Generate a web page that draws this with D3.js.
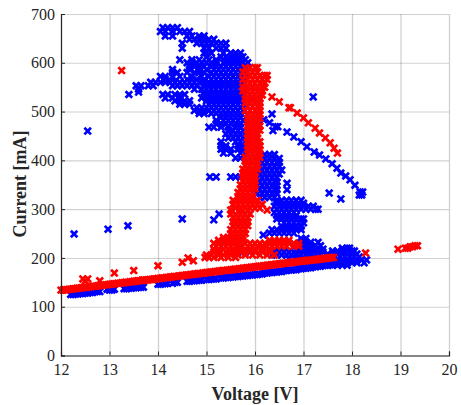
<!DOCTYPE html>
<html>
<head>
<meta charset="utf-8">
<script src="https://cdn.jsdelivr.net/npm/d3@7"></script>
<style>
html, body { margin: 0; padding: 0; background: #fff; overflow: hidden; }
text { font-family: "Liberation Serif", serif; fill: #262626; }
</style>
</head>
<body>
<svg id="chart" width="461" height="405"></svg>
<script>
var xTicks = [12, 13, 14, 15, 16, 17, 18, 19, 20]
var yTicks = [0, 100, 200, 300, 400, 500, 600, 700]

// rows of [current, [voltages]]
var blueUpper = [
	[672, [14.1, 14.2, 14.3, 14.4]],
	[664, [14.05, 14.15, 14.3, 14.45, 14.55, 14.65]],
	[655, [14.15, 14.3, 14.6, 14.7, 14.85, 14.95]],
	[648, [14.65, 14.75, 14.85, 14.95, 15.05, 15.15]],
	[640, [14.5, 14.8, 14.9, 15.0, 15.1, 15.2, 15.3, 15.4]],
	[630, [14.5, 14.95, 15.05, 15.2, 15.3, 15.4]],
	[620, [14.95, 15.0, 15.1, 15.35, 15.5, 15.6, 15.7]],
	[612, [15.0, 15.3, 15.4, 15.5, 15.6, 15.7, 15.75]],
	[606, [14.45, 14.7, 14.85, 15.05, 15.2, 15.45, 15.55, 15.65, 15.8]],
	[600, [14.6, 14.7, 14.8, 14.9, 15.0, 15.1, 15.2, 15.35, 15.45, 15.55, 15.65, 15.75, 15.85]],
	[592, [14.65, 14.75, 14.85, 14.95, 15.1, 15.2, 15.3, 15.4, 15.5, 15.6, 15.7, 15.8]],
	[586, [14.3, 14.65, 14.85, 15.0, 15.15, 15.25, 15.35, 15.45, 15.55, 15.65, 15.75]],
	[580, [14.3, 14.4, 14.6, 14.75, 14.85, 14.95, 15.1, 15.2, 15.3, 15.4, 15.5, 15.6, 15.7, 15.8]],
	[572, [14.05, 14.15, 14.3, 14.45, 14.7, 14.9, 15.05, 15.15, 15.25, 15.35, 15.45, 15.55, 15.65, 15.75]],
	[566, [14.15, 14.6, 14.8, 14.95, 15.1, 15.2, 15.3, 15.4, 15.5, 15.6, 15.7, 15.8]],
	[560, [13.85, 13.95, 14.05, 14.15, 14.25, 14.35, 14.45, 14.55, 14.65, 14.75, 14.85, 14.95, 15.05, 15.15, 15.25, 15.35, 15.45, 15.55, 15.65, 15.75]],
	[553, [13.55, 13.65, 13.8, 13.9, 14.3, 14.4, 14.5, 14.6, 14.7, 14.8, 14.95, 15.05, 15.15, 15.25, 15.35, 15.45, 15.55, 15.65, 15.75]],
	[546, [13.6, 14.75, 14.9, 15.0, 15.1, 15.2, 15.3, 15.4, 15.5, 15.6, 15.7]],
	[540, [13.6, 14.95, 15.05, 15.15, 15.25, 15.35, 15.45, 15.55, 15.65, 15.75]],
	[535, [13.4, 14.1, 14.2, 14.35, 14.45, 14.55, 14.95, 15.05, 15.15, 15.25, 15.35, 15.45, 15.55, 15.65, 15.75]],
	[528, [14.15, 14.3, 14.45, 14.9, 15.0, 15.1, 15.2, 15.3, 15.4, 15.5, 15.6, 15.7]],
	[522, [14.35, 14.45, 14.55, 14.65, 15.0, 15.1, 15.2, 15.3, 15.4, 15.5, 15.6, 15.7]],
	[515, [14.45, 14.55, 14.65, 15.05, 15.15, 15.25, 15.35, 15.45, 15.55, 15.65, 15.75]],
	[508, [14.8, 14.9, 15.0, 15.1, 15.2, 15.3, 15.4, 15.5, 15.6, 15.7]],
	[502, [14.75, 14.85, 14.95, 15.05, 15.15, 15.25, 15.35, 15.45, 15.55, 15.65, 15.75]],
	[496, [14.85, 14.95, 15.1, 15.2, 15.3, 15.4, 15.5, 15.6, 15.7]],
	[488, [15.3, 15.4, 15.5, 15.6, 15.7]],
	[482, [15.2, 15.35, 15.45, 15.55, 15.65, 15.75]],
	[475, [15.2, 15.3, 15.4, 15.5, 15.6, 15.7]],
	[468, [15.05, 15.15, 15.3, 15.45, 15.6, 15.7]],
	[461, [15.45, 15.55, 15.65, 15.75]],
	[454, [15.4, 15.5, 15.6, 15.7, 15.8]],
	[446, [15.45, 15.55, 15.65, 15.75]],
	[438, [15.3, 15.6, 15.7, 15.8]],
	[430, [15.3, 15.4, 15.65, 15.75]],
	[423, [15.3, 15.4, 15.5, 15.65, 15.75]],
	[415, [15.35, 15.5, 15.7, 15.8]],
	[405, [15.6, 15.7, 15.8]],
	[366, [15.07, 15.2, 15.5, 15.6, 15.7]]
]
var blueTail = [
	[495, [16.35]], [483, [16.18]], [477, [16.3]], [469, [16.47, 16.42]], [461, [16.37]],
	[458, [16.66]], [448, [16.8]], [438, [16.95]], [428, [17.07]], [417, [17.22]],
	[411, [17.33]], [403, [17.46]], [393, [17.59]], [384, [17.69]], [374, [17.77]],
	[368, [17.87]], [360, [17.96]], [349, [18.06]], [335, [18.17, 18.22]], [329, [18.2, 18.15]]
]
var blueLone = [
	[530, [17.2]], [333, [17.53]], [321, [17.77]], [290, [15.26]], [278, [15.15]], [280, [14.5]],
	[460, [12.55]], [249, [12.27]], [259, [12.97]], [266, [13.38]], [353, [16.66]], [340, [16.66]], [247, [16.17]]
]
var blueBlob = [
	[412, [16.1, 16.2, 16.3, 16.4]],
	[404, [16.1, 16.2, 16.3, 16.4, 16.5]],
	[396, [16.15, 16.25, 16.35, 16.45, 16.5]],
	[388, [16.1, 16.2, 16.3, 16.4, 16.5]],
	[380, [16.05, 16.15, 16.25, 16.35, 16.45, 16.55]],
	[372, [16.1, 16.2, 16.3, 16.4, 16.5]],
	[364, [16.05, 16.15, 16.25, 16.35, 16.45]],
	[356, [16.1, 16.2, 16.3, 16.4, 16.45]],
	[348, [16.05, 16.15, 16.25, 16.35, 16.45]],
	[340, [16.1, 16.2, 16.3, 16.4, 16.45]],
	[332, [16.05, 16.15, 16.25, 16.35, 16.45]],
	[324, [16.1, 16.2, 16.3, 16.4]],
	[318, [16.45, 16.55, 16.65, 16.75, 16.85, 16.95]],
	[312, [16.45, 16.6, 16.7, 16.8, 16.9, 17.0]],
	[306, [16.4, 16.5, 16.6, 16.7, 16.8, 16.9, 17.0, 17.1, 17.2]],
	[300, [16.45, 16.55, 16.65, 16.75, 16.85, 16.95, 17.05, 17.15, 17.25, 17.3]],
	[293, [16.4, 16.5, 16.6, 16.7, 16.8]],
	[287, [16.45, 16.55, 16.65, 16.75, 16.85]],
	[280, [16.45, 16.55, 16.65, 16.75, 16.85, 16.95, 17.0]],
	[272, [16.6, 16.7, 16.8, 16.9, 17.0]],
	[265, [16.55, 16.65, 16.75, 16.85, 16.95]],
	[258, [16.35, 16.45, 16.55, 16.65, 16.75, 16.85, 16.95]],
	[251, [16.3, 16.4, 16.5, 16.6, 16.7, 16.8]],
	[240, [16.95, 17.05]],
	[232, [16.95, 17.05, 17.15, 17.3]],
	[225, [16.85, 16.95, 17.05, 17.15, 17.25, 17.35]],
	[218, [16.9, 17.0, 17.1, 17.2, 17.3, 17.4]],
	[212, [15.6, 15.75, 15.9, 16.4, 16.5, 16.6, 16.7, 16.8, 16.9, 17.0, 17.1, 17.2, 17.3, 17.4]],
	[206, [16.35, 16.45, 16.55, 16.65, 16.75, 16.85, 16.95, 17.05, 17.15, 17.25, 17.35]],
	[198, [16.7, 16.85, 17.0, 17.15, 17.3, 17.45]],
	[220, [17.8, 17.9, 17.95]],
	[214, [17.6, 17.7, 17.8, 17.9, 18.0, 18.05]],
	[208, [17.5, 17.6, 17.7, 17.8, 17.9, 18.0, 18.1]],
	[202, [17.55, 17.65, 17.75, 17.85, 17.95, 18.05, 18.15]],
	[196, [17.5, 17.6, 17.7, 17.8, 17.9, 18.0, 18.1, 18.2, 18.3]],
	[190, [17.4, 17.5, 17.6, 17.7, 17.8, 17.9, 18.0, 18.1, 18.25]],
	[185, [17.3, 17.4, 17.5, 17.6, 17.7, 17.8, 17.9]]
]
var blueBand = [
	[125, [12.2, 12.25]], [126, [12.3, 12.35]], [127, [12.4, 12.45]], [128, [12.5, 12.55]], [129, [12.6, 12.65]],
	[131, [12.7, 12.75, 12.8]], [134, [13.0, 13.05]], [136, [13.1, 12.95]],
	[137, [13.3, 13.35]], [138, [13.4, 13.45]], [139, [13.5, 13.55]], [140, [13.6, 13.65, 13.7]],
	[146, [14.0, 14.05]], [147, [14.1, 14.15]], [148, [14.2, 14.3]], [150, [14.35, 14.4]],
	[152, [14.6, 14.65]], [153, [14.7, 14.75]], [154, [14.8, 14.85, 14.9]],
	[156, [15.0, 15.05]], [157, [15.1, 15.15, 15.2]], [159, [15.3, 15.35]], [160, [15.4, 15.45]],
	[161, [15.5, 15.55]], [162, [15.6, 15.65]], [163, [15.7, 15.75]], [164, [15.8, 15.85]],
	[165, [15.9, 15.95]], [166, [16.0, 16.05]], [167, [16.1, 16.15]], [169, [16.2, 16.25]],
	[170, [16.3, 16.35]], [171, [16.4, 16.45]], [172, [16.5, 16.55]], [174, [16.6, 16.65]],
	[175, [16.7, 16.75]], [176, [16.8, 16.85]], [178, [16.9, 16.95]], [179, [17.0, 17.05]],
	[180, [17.1, 17.15]], [182, [17.2, 17.25]], [183, [17.3, 17.35]], [185, [17.4, 17.45]],
	[186, [17.5, 17.55]], [188, [17.6, 17.65]]
]

var redUpper = [
	[590, [15.8, 15.9, 16.0, 16.05]],
	[581, [15.75, 15.85, 15.95, 16.05]],
	[574, [15.8, 15.9, 16.0, 16.1, 16.2, 16.25]],
	[566, [15.75, 15.85, 15.95, 16.05, 16.15, 16.25]],
	[558, [15.8, 15.9, 16.0, 16.1, 16.2]],
	[550, [15.75, 15.85, 15.95, 16.05, 16.15, 16.2]],
	[542, [15.75, 15.85, 15.95, 16.05, 16.15]],
	[534, [15.8, 15.9, 16.0, 16.1, 16.15]],
	[526, [15.8, 15.9, 16.0, 16.1]],
	[518, [15.8, 15.9, 16.0, 16.1]],
	[510, [15.85, 15.95, 16.05, 16.1]],
	[502, [15.8, 15.9, 16.0, 16.1]],
	[494, [15.85, 15.95, 16.05, 16.1]],
	[486, [15.85, 15.95, 16.05, 16.1]],
	[478, [15.85, 15.95, 16.05]],
	[470, [15.85, 15.95, 16.05, 16.1]],
	[462, [15.85, 15.95, 16.05, 16.1]],
	[454, [15.85, 15.95, 16.05]],
	[446, [15.85, 15.95, 16.05]],
	[438, [15.85, 15.95, 16.05, 16.1]],
	[430, [15.85, 15.95, 16.05, 16.1]],
	[422, [15.85, 15.95, 16.05, 16.1]],
	[414, [15.85, 15.95, 16.05, 16.1]],
	[406, [15.8, 15.9, 16.0, 16.1]],
	[398, [15.8, 15.9, 16.0, 16.05]],
	[390, [15.8, 15.9, 16.0, 16.05]],
	[382, [15.75, 15.85, 15.95, 16.05]],
	[374, [15.75, 15.85, 15.95, 16.0]],
	[366, [15.75, 15.85, 15.95, 16.0]],
	[358, [15.75, 15.85, 15.95, 16.0]],
	[350, [15.7, 15.8, 15.9, 16.0]],
	[342, [15.7, 15.8, 15.9, 16.0]],
	[334, [15.65, 15.75, 15.85, 15.95]],
	[326, [15.65, 15.75, 15.85, 15.95]],
	[318, [15.55, 15.65, 15.75, 15.85, 15.95, 16.05]],
	[310, [15.55, 15.65, 15.75, 15.85, 15.95, 16.05, 16.15]],
	[302, [15.6, 15.7, 15.8, 15.9, 16.0, 16.1]],
	[298, [15.5, 15.7, 15.85, 16.25]],
	[290, [15.5, 15.6, 15.7, 15.8, 15.9]],
	[282, [15.55, 15.65, 15.75, 15.85]],
	[274, [15.55, 15.65, 15.75, 15.85]],
	[266, [15.55, 15.65, 15.75, 15.85]],
	[258, [15.5, 15.6, 15.7, 15.8]],
	[250, [15.5, 15.6, 15.7, 15.8]],
	[242, [15.35, 15.45, 15.55, 15.65, 15.75]]
]
var redLower = [
	[236, [15.25, 15.35, 15.45, 15.55, 15.65, 15.75, 16.3, 16.4, 16.5, 16.6, 16.7]],
	[230, [15.15, 15.25, 15.35, 15.45, 15.55, 15.65, 15.8, 15.9, 16.0, 16.1, 16.2, 16.3, 16.4, 16.5, 16.6, 16.7, 16.8, 16.9]],
	[224, [15.2, 15.3, 15.4, 15.5, 15.6, 15.7, 15.85, 15.95, 16.05, 16.15, 16.25, 16.35, 16.45, 16.55, 16.65, 16.8, 16.9]],
	[218, [15.15, 15.25, 15.35, 15.45, 15.55, 15.7, 15.8, 15.9, 16.0, 16.15, 16.3]],
	[212, [15.15, 15.25, 15.4, 15.55, 15.7, 15.8, 16.0, 16.15, 16.3]],
	[206, [15.0, 15.1, 15.25, 15.35, 15.5, 15.65, 15.8, 15.95, 16.1, 16.25, 16.4]],
	[201, [14.97, 15.05, 15.15, 15.3, 15.45, 15.6]]
]
var redTail = [
	[530, [16.35]], [520, [16.5]], [508, [16.7, 16.73]], [497, [16.87]], [487, [17.0]], [477, [17.1]],
	[466, [17.24]], [456, [17.33]], [446, [17.45]], [436, [17.55]], [425, [17.63]], [415, [17.7]]
]
var redLone = [
	[584, [13.25]], [157, [12.45, 12.55]], [153, [12.8, 12.5]], [169, [13.1]], [174, [13.5]],
	[155, [13.7]], [156, [13.9]], [184, [14.0]], [191, [14.5]], [200, [14.62]], [194, [14.73]],
	[210, [18.28]], [218, [18.95]], [220, [19.1, 19.15]], [223, [19.2, 19.25]], [225, [19.3, 19.35]]
]
var redBand = [
	[134, [12.0, 12.04]], [135, [12.08, 12.12]], [136, [12.17, 12.21]], [137, [12.25, 12.29]], [138, [12.33, 12.37]],
	[139, [12.42, 12.46]], [140, [12.5, 12.54]], [141, [12.58, 12.62]], [142, [12.67, 12.71]], [143, [12.75, 12.79]],
	[144, [12.83, 12.87]], [145, [12.92, 12.96]], [146, [13.0, 13.04]], [147, [13.08, 13.12]], [148, [13.17, 13.21]],
	[149, [13.25, 13.29]], [150, [13.33, 13.37]], [151, [13.42, 13.46]], [152, [13.5, 13.54]], [153, [13.58, 13.62]],
	[154, [13.67, 13.71]], [155, [13.75, 13.79]], [156, [13.83, 13.87]], [157, [13.92, 13.96]], [158, [14.0, 14.04]],
	[159, [14.08, 14.12]], [160, [14.17, 14.21]], [161, [14.25, 14.29]], [162, [14.33, 14.37]], [163, [14.42, 14.46]],
	[164, [14.5, 14.54]], [165, [14.58, 14.62]], [166, [14.67, 14.71]], [167, [14.75, 14.79]], [168, [14.83, 14.87]],
	[169, [14.92, 14.96]], [170, [15.0, 15.04]], [171, [15.08, 15.12]], [172, [15.17, 15.21]], [173, [15.25, 15.29]],
	[174, [15.33, 15.37]], [175, [15.42, 15.46]], [176, [15.5, 15.54]], [177, [15.58, 15.62]], [178, [15.67, 15.71]],
	[179, [15.75, 15.79]], [180, [15.83, 15.87]], [181, [15.92, 15.96]], [182, [16.0, 16.04]], [183, [16.08, 16.12]],
	[184, [16.17, 16.21]], [185, [16.25, 16.29]], [186, [16.33, 16.37]], [187, [16.42, 16.46]], [188, [16.5, 16.54]],
	[189, [16.58, 16.62]], [190, [16.67, 16.71]], [191, [16.75, 16.79]], [192, [16.83, 16.87]], [193, [16.92, 16.96]],
	[194, [17.0, 17.04]], [195, [17.08, 17.12]], [196, [17.17, 17.21]], [197, [17.25, 17.29]], [198, [17.33, 17.37]],
	[199, [17.42, 17.46]], [200, [17.5, 17.54]], [201, [17.58, 17.62]]
]

var width = 461, height = 405
var margin = {left: 61, right: 12, top: 14, bottom: 49.5}
var x = d3.scaleLinear().domain([12, 20]).range([margin.left, width - margin.right])
var y = d3.scaleLinear().domain([0, 700]).range([height - margin.bottom, margin.top])

var svg = d3.select("#chart")

function flatten(rows){
	var pts = []
	rows.forEach(function(r){
		r[1].forEach(function(v){ pts.push([v, r[0]]) })
	})
	return pts
}

// gridlines
svg.append("g")
	.attr("transform", "translate(0," + y(0) + ")")
	.call(d3.axisBottom(x).tickValues(xTicks).tickSize(-(y(0) - y(700))).tickFormat(""))
	.call(g => g.select(".domain").remove())
	.selectAll("line").attr("stroke", "#000").attr("stroke-opacity", 0.18).attr("stroke-width", 1.3)
svg.append("g")
	.attr("transform", "translate(" + x(12) + ",0)")
	.call(d3.axisLeft(y).tickValues(yTicks).tickSize(-(x(20) - x(12))).tickFormat(""))
	.call(g => g.select(".domain").remove())
	.selectAll("line").attr("stroke", "#000").attr("stroke-opacity", 0.18).attr("stroke-width", 1.1)

var times = d3.symbol(d3.symbolTimes, 30)

function drawSeries(rows, color){
	svg.append("g").selectAll("path")
		.data(flatten(rows))
		.join("path")
		.attr("d", times)
		.attr("transform", d => "translate(" + x(d[0]) + "," + y(d[1]) + ")")
		.attr("fill", "none")
		.attr("stroke", color)
		.attr("stroke-width", 2.7)
}

drawSeries([].concat(blueUpper, blueTail, blueLone, blueBlob, blueBand), "#0000ff")
drawSeries([].concat(redUpper, redLower, redTail, redLone, redBand), "#ff0000")

// axes
var xAxis = svg.append("g")
	.attr("transform", "translate(0," + y(0) + ")")
	.call(d3.axisBottom(x).tickValues(xTicks).tickSize(-4).tickPadding(8).tickFormat(d3.format("d")))
var yAxis = svg.append("g")
	.attr("transform", "translate(" + x(12) + ",0)")
	.call(d3.axisLeft(y).tickValues(yTicks).tickSize(-4).tickPadding(6).tickFormat(d3.format("d")))
;[xAxis, yAxis].forEach(function(a){
	a.select(".domain").attr("stroke", "#262626").attr("stroke-width", 1.2)
	a.selectAll("line").attr("stroke", "#262626").attr("stroke-width", 1)
	a.selectAll("text").style("font-size", "16px").style("font-family", "Liberation Serif")
})

svg.append("text")
	.attr("x", 255).attr("y", 400)
	.attr("text-anchor", "middle")
	.style("font-size", "18px").style("font-weight", "bold")
	.text("Voltage [V]")
svg.append("text")
	.attr("transform", "translate(26,184) rotate(-90)")
	.attr("text-anchor", "middle")
	.style("font-size", "18px").style("font-weight", "bold")
	.text("Current [mA]")
</script>
</body>
</html>
